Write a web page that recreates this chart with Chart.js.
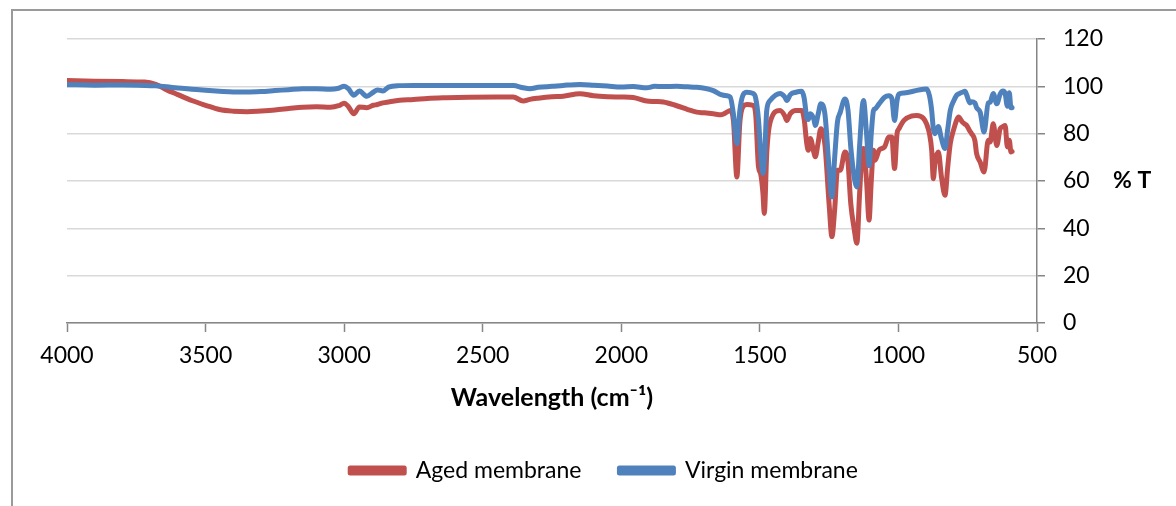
<!DOCTYPE html>
<html>
<head>
<meta charset="utf-8">
<script src="https://cdn.jsdelivr.net/npm/chart.js@4"></script>
<style>
  html, body { margin: 0; padding: 0; background: #fff; overflow: hidden; }
  #wrap { position: relative; width: 1176px; height: 506px; }
  #frame {
    position: absolute; left: 11px; top: 9px; width: 1300px; height: 700px;
    border: 2px solid #9a9a9a; box-sizing: border-box;
  }
  #chart { position: absolute; left: 0; top: 0; }
</style>
</head>
<body>
<div id="wrap">
  <div id="frame"></div>
  <canvas id="chart" width="1176" height="506"></canvas>
</div>
<script>
Chart.defaults.devicePixelRatio = 1;
Chart.defaults.responsive = false;
Chart.defaults.maintainAspectRatio = false;
Chart.defaults.animation = false;
Chart.defaults.font.family = "Lato";
Chart.defaults.color = "#000";

// wavenumber (cm-1) and % transmittance
const wavenumbers = [
  4000, 3900, 3800, 3720, 3680, 3640, 3600, 3550, 3500, 3450,
  3400, 3350, 3300, 3250, 3200, 3150, 3100, 3050, 3020, 3000,
  2985, 2965, 2945, 2918, 2895, 2880, 2860, 2840, 2800, 2750,
  2700, 2630, 2550, 2450, 2390, 2354, 2330, 2300, 2250, 2210,
  2150, 2100, 2050, 2000, 1957, 1908, 1880, 1848, 1800, 1760,
  1728, 1700, 1668, 1640, 1620, 1607, 1595, 1583, 1572, 1560,
  1547, 1525, 1515, 1505, 1497, 1489, 1484, 1475, 1463, 1427,
  1410, 1403, 1390, 1370, 1349, 1340, 1331, 1325, 1318, 1305,
  1300, 1290, 1280, 1265, 1250, 1240, 1230, 1220, 1210, 1193,
  1182, 1172, 1160, 1150, 1140, 1130, 1126, 1115, 1106, 1098,
  1090, 1084, 1070, 1050, 1035, 1024, 1014, 1005, 998, 980,
  950, 934, 910, 898, 888, 880, 874, 868, 856, 845,
  832, 822, 813, 800, 789, 783, 770, 760, 754, 742,
  736, 724, 718, 705, 691, 676, 669, 658, 645, 633,
  623, 615, 607, 600, 594, 590
];

const agedT = [
  102.5, 102.2, 102.0, 101.8, 100.8, 98.5, 96.5, 94.0, 92.0, 90.2,
  89.5, 89.3, 89.6, 90.0, 90.6, 91.2, 91.4, 91.2, 91.8, 92.9,
  91.5, 88.4, 91.3, 91.0, 92.0, 92.3, 93.0, 93.4, 94.1, 94.4,
  94.9, 95.2, 95.4, 95.5, 95.5, 93.8, 94.5, 95.0, 95.6, 95.8,
  96.9, 96.0, 95.6, 95.5, 95.3, 93.8, 93.6, 93.4, 91.8, 90.2,
  89.1, 88.8, 88.4, 88.0, 89.0, 89.8, 85.0, 61.7, 85.0, 91.6,
  92.3, 92.0, 88.0, 66.0, 63.0, 55.0, 46.3, 72.0, 84.8, 89.8,
  87.5, 85.6, 88.5, 89.8, 89.8, 86.0, 76.0, 73.0, 78.0, 72.0,
  70.2, 76.0, 82.1, 75.0, 50.0, 36.5, 48.0, 64.5, 64.5, 72.3,
  68.0, 50.5, 40.0, 33.7, 55.0, 73.0, 73.7, 60.0, 43.5, 60.0,
  73.0, 68.8, 73.0, 74.4, 78.6, 78.6, 65.3, 80.0, 82.1, 85.6,
  87.5, 87.7, 86.5, 84.0, 80.0, 73.0, 61.0, 68.0, 72.3, 62.0,
  54.0, 66.0, 75.8, 82.0, 86.0, 87.0, 85.0, 84.0, 83.5, 81.0,
  80.0, 77.0, 71.6, 68.0, 63.8, 77.2, 76.5, 84.2, 75.0, 82.1,
  83.0, 83.5, 74.4, 77.2, 72.3, 72.5
];

const virginT = [
  100.7, 100.5, 100.6, 100.4, 100.2, 99.8, 99.3, 98.8, 98.3, 97.9,
  97.6, 97.6, 97.8, 98.2, 98.6, 99.0, 99.0, 98.8, 99.2, 100.0,
  99.0, 96.2, 98.0, 95.8, 97.5, 98.5, 98.0, 99.7, 100.3, 100.4,
  100.4, 100.4, 100.4, 100.3, 100.3, 99.4, 99.0, 99.6, 100.0, 100.4,
  100.8, 100.5, 100.1, 99.7, 99.9, 99.4, 100.0, 99.9, 100.0, 99.8,
  99.6, 99.2, 98.2, 96.5, 96.0, 95.4, 88.0, 75.8, 90.0, 96.5,
  97.5, 97.0, 95.0, 86.0, 72.0, 63.2, 68.0, 90.0, 94.0, 97.0,
  95.5, 94.0, 96.5, 97.5, 97.9, 95.0, 87.0, 86.0, 88.4, 86.0,
  83.5, 88.0, 92.6, 88.0, 65.0, 53.3, 70.0, 85.0, 89.0, 94.7,
  90.0, 74.4, 62.0, 57.5, 75.0, 92.0, 94.0, 80.0, 66.5, 80.0,
  89.8, 90.5, 92.6, 95.4, 96.0, 95.0, 85.6, 94.0, 96.7, 97.2,
  97.8, 98.3, 98.8, 98.9, 96.0, 89.8, 82.0, 80.0, 83.0, 78.0,
  73.7, 82.0, 89.8, 94.0, 96.4, 96.8, 97.5, 97.9, 96.5, 93.0,
  93.5, 93.0, 91.0, 89.0, 80.7, 93.0, 93.3, 97.0, 92.6, 96.7,
  98.0, 97.0, 91.6, 97.3, 90.9, 91.0
];

const seriesNames = ["Aged membrane", "Virgin membrane"];
const seriesColors = ["#C0504D", "#4F81BD"];
const xTitle = "Wavelength (cm\u207B\u00B9)";
const yTitle = "% T";

function toPoints(values) {
  return wavenumbers.map((w, i) => ({ x: w, y: values[i] }));
}

// the y axis title sits horizontally beside the 60 tick
const yTitlePlugin = {
  id: "yTitle",
  afterDraw(chart) {
    const ctx = chart.ctx;
    const y = chart.scales.y.getPixelForValue(60);
    ctx.save();
    ctx.font = "bold 23px Lato";
    ctx.fillStyle = "#000";
    ctx.textAlign = "left";
    ctx.textBaseline = "middle";
    ctx.fillText(yTitle, chart.chartArea.right + 76, y);
    ctx.restore();
  },
};

const datasets = [agedT, virginT].map((vals, i) => ({
  label: seriesNames[i],
  data: toPoints(vals),
  borderColor: seriesColors[i],
  backgroundColor: seriesColors[i],
  borderWidth: 5,
  pointRadius: 0,
  cubicInterpolationMode: "monotone",
  borderJoinStyle: "round",
  borderCapStyle: "round",
  // virgin spectrum is drawn on top
  order: i === 1 ? 0 : 1,
}));

new Chart(document.getElementById("chart").getContext("2d"), {
  type: "line",
  data: { datasets },
  options: {
    layout: { padding: { left: 67, right: 35, top: 39, bottom: 14 } },
    plugins: {
      legend: {
        position: "bottom",
        labels: {
          boxWidth: 54,
          boxHeight: 5,
          padding: 38,
          font: { size: 23 },
          color: "#000",
          sort: (a, b) => a.datasetIndex - b.datasetIndex,
        },
      },
      tooltip: { enabled: false },
    },
    scales: {
      x: {
        type: "linear",
        reverse: true,
        min: 500,
        max: 4000,
        afterFit: (s) => { s.height = 98; },
        ticks: {
          stepSize: 500,
          padding: 10,
          maxRotation: 0,
          font: { size: 23 },
          color: "#000",
          callback: (v) => String(v),
        },
        grid: {
          drawOnChartArea: false,
          tickLength: 9,
          tickColor: "#868686",
          tickWidth: 1.5,
        },
        border: { color: "#868686", width: 1.5 },
        title: {
          display: true,
          text: xTitle,
          font: { size: 25, weight: "bold" },
          color: "#000",
          padding: { top: 0, bottom: 8 },
        },
      },
      y: {
        position: "right",
        min: 0,
        max: 120,
        afterFit: (s) => { s.width = 104; },
        ticks: {
          stepSize: 20,
          padding: 18,
          font: { size: 23 },
          color: "#000",
        },
        grid: {
          color: "#d9d9d9",
          lineWidth: 1.5,
          tickLength: 8,
          tickColor: "#868686",
          tickWidth: 1.5,
        },
        border: { color: "#868686", width: 1.5 },
      },
    },
  },
  plugins: [yTitlePlugin],
});
</script>
</body>
</html>
